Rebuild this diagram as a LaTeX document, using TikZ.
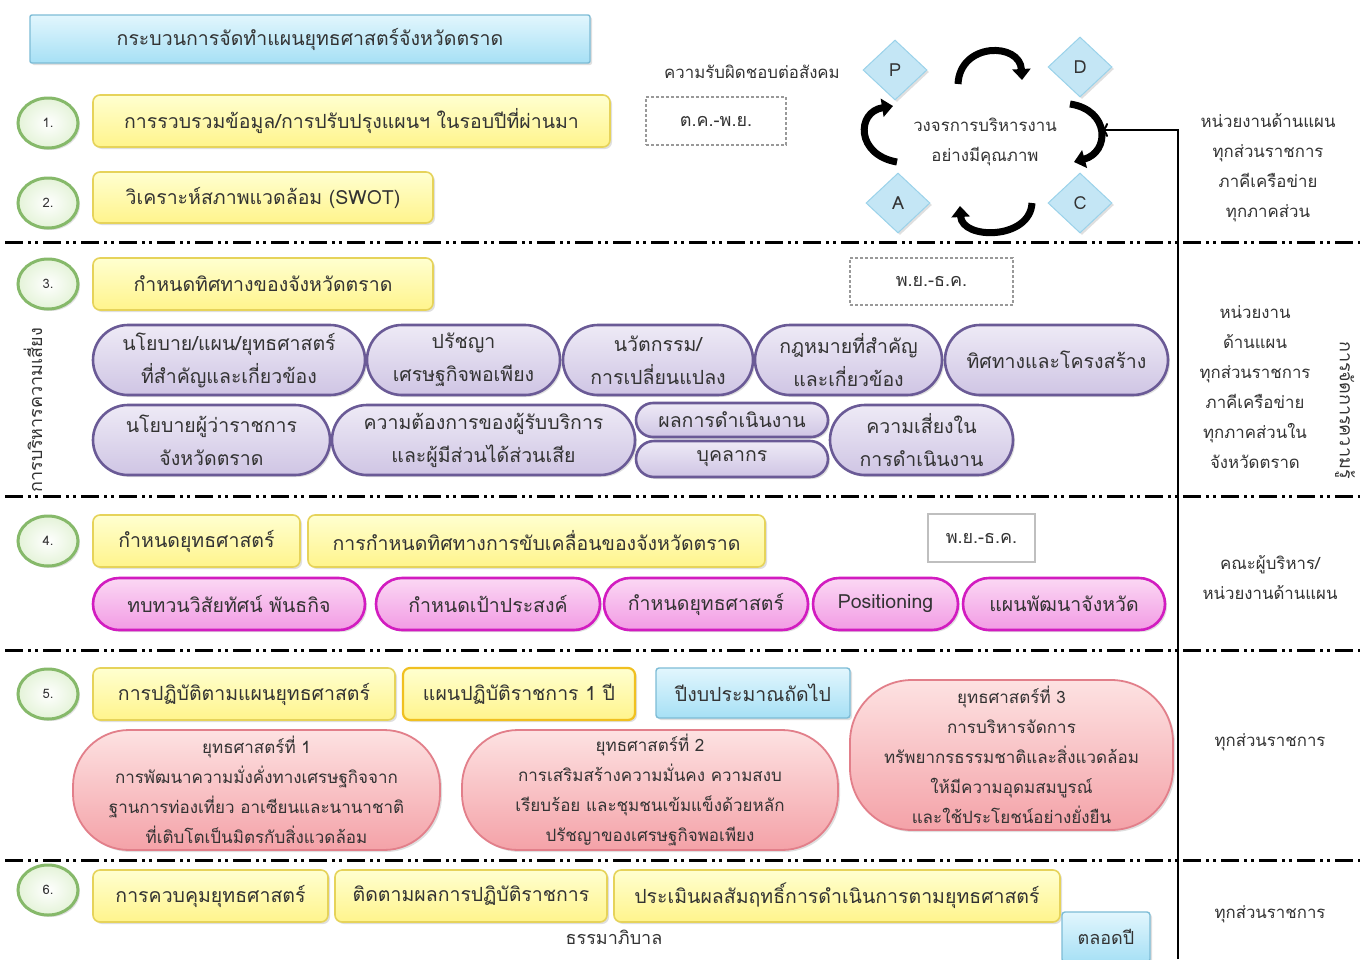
\documentclass[tikz,border=0pt]{standalone}
\usepackage{fontspec}
\setmainfont[Script=Thai]{Loma}
\usetikzlibrary{shapes.geometric,shapes.misc,arrows.meta,shadows}
\definecolor{txt}{HTML}{333333}
\definecolor{ybord}{HTML}{E6D35A}
\definecolor{ytop}{HTML}{FFFFD0}
\definecolor{ybot}{HTML}{FFF48C}
\definecolor{obord}{HTML}{F0C020}
\definecolor{gbord}{HTML}{86B96A}
\definecolor{gfill}{HTML}{E4F3D8}
\definecolor{pbord}{HTML}{6A5A96}
\definecolor{ptop}{HTML}{EEEAF6}
\definecolor{pbot}{HTML}{CFC5E4}
\definecolor{mbord}{HTML}{D21CC0}
\definecolor{mtop}{HTML}{FBD8F4}
\definecolor{mbot}{HTML}{F29BE4}
\definecolor{rbord}{HTML}{E27F8A}
\definecolor{rtop}{HTML}{FDE2E2}
\definecolor{rbot}{HTML}{F4A2A8}
\definecolor{bbord}{HTML}{7DBCD6}
\definecolor{btop}{HTML}{E2F6FD}
\definecolor{bbot}{HTML}{A6E0F5}
\definecolor{dfill}{HTML}{C4E6F5}
\definecolor{dbord}{HTML}{9AD2EA}
\newcommand\fsBig{\fontsize{19.5}{22}\selectfont}
\newcommand\fsMid{\fontsize{19.5}{33}\selectfont}
\newcommand\fsRed{\fontsize{17}{30}\selectfont}
\newcommand\fsSm{\fontsize{16.8}{30}\selectfont}
\newcommand\fsPer{\fontsize{18}{20}\selectfont}
\newcommand\fsNum{\fontsize{13}{15}\selectfont}
\begin{document}
\begin{tikzpicture}[x=1pt,y=-1pt,
  every node/.style={text=txt, inner sep=0pt},
  shad/.style={drop shadow={opacity=0.25, shadow xshift=2pt, shadow yshift=-2pt}},
  ybox/.style={shad, draw=ybord, line width=1.6pt, rounded corners=7pt, top color=ytop, bottom color=ybot, font=\fsBig},
  obox/.style={ybox, draw=obord, line width=2.2pt},
  bbox/.style={shad, draw=bbord, line width=1.4pt, rounded corners=3pt, top color=btop, bottom color=bbot, font=\fsBig},
  numc/.style={ellipse, draw=gbord, line width=3pt, inner color=white, outer color=gfill, minimum width=60pt, minimum height=50pt, font=\fsNum, shad},
  dbox/.style={draw=gray!80, densely dashed, line width=1.3pt, font=\fsPer},
  gbox/.style={draw=gray!50, line width=1.3pt, font=\fsPer},
  ppill/.style={rounded rectangle, draw=pbord, line width=2.6pt, top color=ptop, bottom color=pbot, font=\fsMid, align=center, shad},
  mpill/.style={rounded rectangle, draw=mbord, line width=2.6pt, top color=mtop, bottom color=mbot, font=\fsMid, align=center, shad},
  rpill/.style={rectangle, rounded corners=56pt, draw=rbord, line width=1.8pt, top color=rtop, bottom color=rbot, font=\fsRed, align=center, shad},
  pdca/.style={diamond, draw=dbord, line width=1pt, fill=dfill, minimum width=64pt, minimum height=60pt, font=\fsPer, shad},
  cyc/.style={line width=7pt, -{Triangle[length=11pt,width=18pt]}},
  sep/.style={line width=3pt, dash pattern=on 18pt off 5pt on 3pt off 4pt on 3pt off 5pt},
  rtxt/.style={font=\fsSm, align=center}
]
\useasboundingbox (0,0) rectangle (1360,959);
\fill[white] (0,0) rectangle (1360,959);

% separators
\draw[sep] (5,242) -- (1360,242);
\draw[sep] (5,496) -- (1360,496);
\draw[sep] (5,650) -- (1360,650);
\draw[sep] (5,860) -- (1360,860);

% title
\node[bbox, minimum width=560pt, minimum height=48pt, rounded corners=2pt] (title) at (310,39) {กระบวนการจัดทำแผนยุทธศาสตร์จังหวัดตราด};

% numbers
\node[numc] (n1) at (48,123) {1.};
\node[numc] (n2) at (48,203) {2.};
\node[numc] (n3) at (48,284) {3.};
\node[numc] (n4) at (48,541) {4.};
\node[numc] (n5) at (48,694) {5.};
\node[numc] (n6) at (48,890) {6.};

% yellow boxes
\node[ybox, minimum width=517pt, minimum height=52pt] (y1) at (351.5,121) {การรวบรวมข้อมูล/การปรับปรุงแผนฯ ในรอบปีที่ผ่านมา};
\node[ybox, minimum width=340pt, minimum height=51pt] (y2) at (263,197.5) {วิเคราะห์สภาพแวดล้อม (SWOT)};
\node[ybox, minimum width=340pt, minimum height=52pt] (y3) at (263,284) {กำหนดทิศทางของจังหวัดตราด};
\node[ybox, minimum width=207pt, minimum height=52pt] (y4a) at (196.5,541) {กำหนดยุทธศาสตร์};
\node[ybox, minimum width=457pt, minimum height=52pt] (y4b) at (536.5,541) {การกำหนดทิศทางการขับเคลื่อนของจังหวัดตราด};
\node[ybox, minimum width=302pt, minimum height=52pt] (y5a) at (244,694) {การปฏิบัติตามแผนยุทธศาสตร์};
\node[obox, minimum width=232pt, minimum height=52pt] (y5b) at (519,694) {แผนปฏิบัติราชการ 1 ปี};
\node[bbox, minimum width=194pt, minimum height=50pt] (b5) at (753,693) {ปีงบประมาณถัดไป};
\node[ybox, minimum width=235pt, minimum height=52pt] (y6a) at (210.5,896) {การควบคุมยุทธศาสตร์};
\node[ybox, minimum width=272pt, minimum height=52pt] (y6b) at (471,896) {ติดตามผลการปฏิบัติราชการ};
\node[ybox, minimum width=446pt, minimum height=52pt] (y6c) at (837,896) {ประเมินผลสัมฤทธิ์การดำเนินการตามยุทธศาสตร์};
\node[font=\fsPer] (gov) at (614,937) {ธรรมาภิบาล};
\node[bbox, minimum width=88pt, minimum height=50pt, font=\fsPer] (year) at (1106,937) {ตลอดปี};

% period boxes
\node[dbox, minimum width=140pt, minimum height=48pt] (d1) at (716,121) {ต.ค.-พ.ย.};
\node[dbox, minimum width=163pt, minimum height=47pt] (d3) at (931.5,281.5) {พ.ย.-ธ.ค.};
\node[gbox, minimum width=107pt, minimum height=48pt] (d4) at (981.5,538) {พ.ย.-ธ.ค.};

% purple pills
\node[ppill, minimum width=272pt, minimum height=70pt] (pa) at (229,360) {นโยบาย/แผน/ยุทธศาสตร์\\ที่สำคัญและเกี่ยวข้อง};
\node[ppill, minimum width=193pt, minimum height=70pt] (pb) at (463.5,360) {ปรัชญา\\เศรษฐกิจพอเพียง};
\node[ppill, minimum width=190pt, minimum height=70pt] (pc) at (658,360) {นวัตกรรม/\\การเปลี่ยนแปลง};
\node[ppill, minimum width=187pt, minimum height=70pt] (pd) at (848.5,360) {กฎหมายที่สำคัญ\\และเกี่ยวข้อง};
\node[ppill, minimum width=223pt, minimum height=70pt] (pe) at (1056.5,360) {ทิศทางและโครงสร้าง};
\node[ppill, minimum width=237pt, minimum height=70pt] (pf) at (211.5,440) {นโยบายผู้ว่าราชการ\\จังหวัดตราด};
\node[ppill, minimum width=303pt, minimum height=70pt] (pg) at (483.5,440) {ความต้องการของผู้รับบริการ\\และผู้มีส่วนได้ส่วนเสีย};
\node[ppill, minimum width=192pt, minimum height=34pt] (ph) at (732,420) {ผลการดำเนินงาน};
\node[ppill, minimum width=192pt, minimum height=36pt] (pi) at (732,459) {บุคลากร};
\node[ppill, minimum width=183pt, minimum height=70pt] (pj) at (921.5,440) {ความเสี่ยงใน\\การดำเนินงาน};

% magenta pills
\node[mpill, minimum width=272pt, minimum height=52pt] (ma) at (229,604) {ทบทวนวิสัยทัศน์ พันธกิจ};
\node[mpill, minimum width=224pt, minimum height=52pt] (mb) at (488,604) {กำหนดเป้าประสงค์};
\node[mpill, minimum width=204pt, minimum height=52pt] (mc) at (706,604) {กำหนดยุทธศาสตร์};
\node[mpill, minimum width=145pt, minimum height=52pt] (md) at (885.5,604) {Positioning};
\node[mpill, minimum width=202pt, minimum height=52pt] (me) at (1064,604) {แผนพัฒนาจังหวัด};

% red pills
\node[rpill, minimum width=367pt, minimum height=120pt] (r1) at (256.5,790) {ยุทธศาสตร์ที่ 1\\การพัฒนาความมั่งคั่งทางเศรษฐกิจจาก\\ฐานการท่องเที่ยว อาเซียนและนานาชาติ\\ที่เติบโตเป็นมิตรกับสิ่งแวดล้อม};
\node[rpill, minimum width=376pt, minimum height=120pt] (r2) at (650,790) {ยุทธศาสตร์ที่ 2\\การเสริมสร้างความมั่นคง ความสงบ\\เรียบร้อย และชุมชนเข้มแข็งด้วยหลัก\\ปรัชญาของเศรษฐกิจพอเพียง};
\node[rpill, minimum width=323pt, minimum height=150pt, rounded corners=62pt] (r3) at (1011.5,755) {ยุทธศาสตร์ที่ 3\\การบริหารจัดการ\\ทรัพยากรธรรมชาติและสิ่งแวดล้อม\\ให้มีความอุดมสมบูรณ์\\และใช้ประโยชน์อย่างยั่งยืน};

% PDCA
\node[font=\fsSm] (csr) at (752,72) {ความรับผิดชอบต่อสังคม};
\node[pdca] (P) at (895,70) {P};
\node[pdca] (D) at (1080,67) {D};
\node[pdca] (A) at (898,203) {A};
\node[pdca] (C) at (1080,203) {C};
\node[rtxt] (cycle) at (985,142) {วงจรการบริหารงาน\\อย่างมีคุณภาพ};
\draw[cyc] (958,84) .. controls (960,42) and (1020,42) .. (1022,80);
\draw[cyc] (1070,104) .. controls (1110,110) and (1110,152) .. (1074,162);
\draw[cyc] (1032,203) .. controls (1030,240) and (962,240) .. (960,206);
\draw[cyc] (897,162) .. controls (856,155) and (856,112) .. (893,106);
\coordinate (cycR) at (1101,130);
\coordinate (loopS) at (1178,959);
\draw[line width=2pt, -{To[length=7pt,width=14pt]}] (loopS) |- (cycR);

% right column
\node[rtxt] (resp1) at (1268,168) {หน่วยงานด้านแผน\\ทุกส่วนราชการ\\ภาคีเครือข่าย\\ทุกภาคส่วน};
\node[rtxt] (resp3) at (1255,387) {หน่วยงาน\\ด้านแผน\\ทุกส่วนราชการ\\ภาคีเครือข่าย\\ทุกภาคส่วนใน\\จังหวัดตราด};
\node[rtxt] (resp4) at (1270,578) {คณะผู้บริหาร/\\หน่วยงานด้านแผน};
\node[rtxt] (resp5) at (1270,742) {ทุกส่วนราชการ};
\node[rtxt] (resp6) at (1270,914) {ทุกส่วนราชการ};
\node[font=\fsPer, rotate=-90] (km) at (1345,410) {การจัดการความรู้};
\node[font=\fsPer, rotate=90] (risk) at (33,410) {การบริหารความเสี่ยง};
\end{tikzpicture}
\end{document}
